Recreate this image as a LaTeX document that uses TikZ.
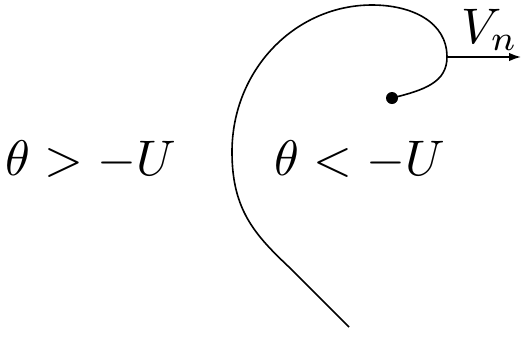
\documentclass[tikz,border=0pt]{standalone}
\usetikzlibrary{arrows.meta}
\begin{document}
\begin{tikzpicture}[x=0.2pt,y=-0.2pt,line width=0.32pt,
  lbl/.style={inner sep=0pt}]
\useasboundingbox (0,0) rectangle (521,336);
\coordinate (dot) at (392,98);
\coordinate (rt) at (447,57);
\coordinate (tp) at (372,5);
\coordinate (lf) at (232,152);
\coordinate (en) at (349,327);
\coordinate (ar) at (521,57);
\draw (dot) .. controls (425,90) and (447,82) .. (rt)
  .. controls (447,22) and (412,5) .. (tp)
  .. controls (295,5) and (232,70) .. (lf)
  .. controls (232,210) and (255,235) .. (290,268) -- (en);
\fill (dot) circle (6);
\draw[-{Latex[length=2.4pt,width=1.7pt]}] (rt) -- (ar);
\node[lbl] (vn) at (490,30) {$V_n$};
\node[lbl] (a) at (91,160) {$\theta > -U$};
\node[lbl] (b) at (360,160) {$\theta < -U$};
\end{tikzpicture}
\end{document}
